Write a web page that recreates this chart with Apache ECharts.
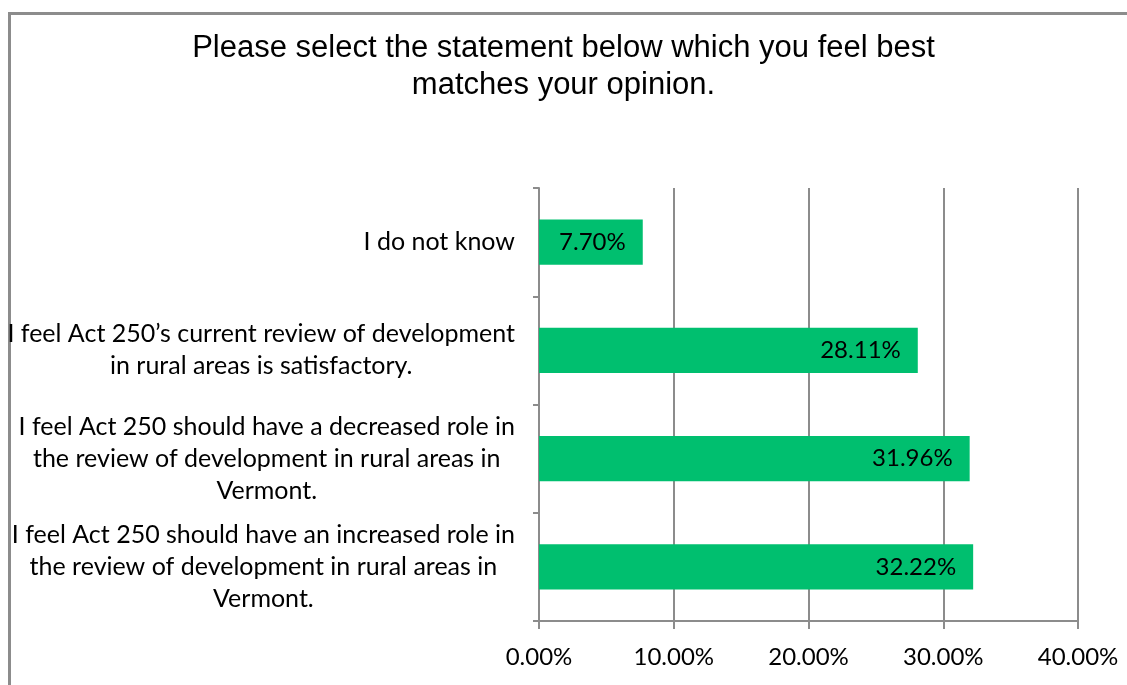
<!DOCTYPE html>
<html>
<head>
<meta charset="utf-8">
<script src="https://cdn.jsdelivr.net/npm/echarts@6/dist/echarts.min.js"></script>
<style>html,body{margin:0;padding:0;background:#fff;}#c{width:1127px;height:685px;}</style>
</head>
<body>
<div id="c"></div>
<script>
const titleText = 'Please select the statement below which you feel best\nmatches your opinion.';
const categories = [
  'I feel Act 250 should have an increased role in\nthe review of development in rural areas in\nVermont.',
  'I feel Act 250 should have a decreased role in\nthe review of development in rural areas in\nVermont.',
  'I feel Act 250\u2019s current review of development\nin rural areas is satisfactory.',
  'I do not know'
];
const values = [32.22, 31.96, 28.11, 7.70];
const xTicks = [0, 10, 20, 30, 40];

const chart = echarts.init(document.getElementById('c'), null, {renderer: 'canvas'});
const grey = '#8c8c8c';
chart.setOption({
  animation: false,
  backgroundColor: '#fff',
  title: {
    text: titleText,
    left: 'center',
    top: 30,
    padding: [0, 0, 0, 21],
    textStyle: {fontFamily: 'Liberation Sans', fontSize: 31, fontWeight: 'normal', color: '#000', lineHeight: 37}
  },
  graphic: [{
    type: 'rect', left: 7, top: 11, shape: {width: 1200, height: 800},
    style: {fill: 'none', stroke: grey, lineWidth: 3}, silent: true, z: -1
  }],
  grid: {left: 539, right: 49, top: 188, bottom: 64, containLabel: false},
  xAxis: {
    type: 'value', min: xTicks[0], max: xTicks[xTicks.length - 1], interval: xTicks[1] - xTicks[0],
    axisLine: {show: true, lineStyle: {color: grey, width: 2}},
    axisTick: {show: true, length: 8, lineStyle: {color: grey, width: 2}},
    splitLine: {show: true, lineStyle: {color: grey, width: 2}},
    axisLabel: {
      margin: 24, color: '#000', fontFamily: 'Lato', fontSize: 24,
      formatter: v => v.toFixed(2) + '%'
    }
  },
  yAxis: {
    type: 'category', data: categories,
    axisLine: {show: true, lineStyle: {color: grey, width: 2}},
    axisTick: {show: true, length: 6, inside: false, lineStyle: {color: grey, width: 2}},
    axisLabel: {
      margin: 24, color: '#000', fontFamily: 'Lato', fontSize: 25, align: 'right',
      formatter: v => '{c|' + v + '}',
      rich: {c: {align: 'center', fontFamily: 'Lato', fontSize: 25, lineHeight: 32, color: '#000'}}
    }
  },
  series: [{
    type: 'bar', data: values, barCategoryGap: '58%',
    itemStyle: {color: '#00bf6f'},
    label: {
      show: true, position: 'insideRight', distance: 17,
      color: '#000', fontFamily: 'Lato', fontSize: 24,
      formatter: p => p.value.toFixed(2) + '%'
    }
  }]
});
</script>
</body>
</html>
